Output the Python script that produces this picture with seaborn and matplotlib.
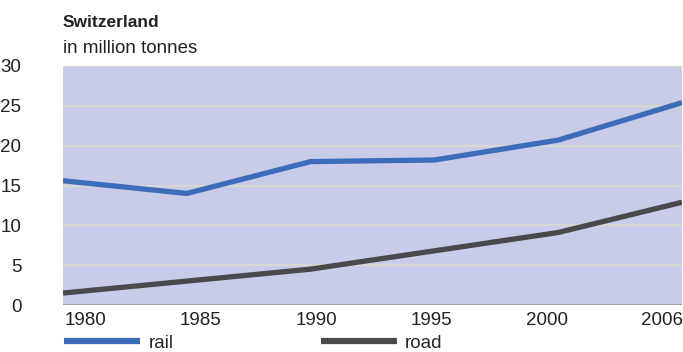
import matplotlib
matplotlib.use("Agg")
import matplotlib.pyplot as plt
import seaborn as sns
import pandas as pd
import numpy as np
from matplotlib.lines import Line2D

# Goods transport through Switzerland, million tonnes
years = ["1980", "1985", "1990", "1995", "2000", "2006"]
rail = [15.6, 14.0, 18.0, 18.2, 20.7, 25.4]
road = [1.5, 3.0, 4.5, 6.8, 9.1, 12.9]

df = pd.DataFrame({
    "year": years * 2,
    "pos": list(range(len(years))) * 2,
    "value": rail + road,
    "mode": ["rail"] * len(years) + ["road"] * len(years),
})

sns.set_theme(style="white")
plt.rcParams["font.family"] = ["Liberation Sans", "DejaVu Sans"]

W, H = 683, 352
fig = plt.figure(figsize=(W / 100, H / 100), dpi=100)
ax = fig.add_axes([63 / W, 1 - 305 / H, 619 / W, 239 / H])
ax.set_facecolor("#c8cce8")

palette = {"rail": "#3d6cb9", "road": "#4a4a4c"}
sns.lineplot(data=df, x="pos", y="value", hue="mode", palette=palette,
             linewidth=3.8, ax=ax, legend=False, solid_capstyle="butt")

ax.set_xlim(0, len(years) - 1)
ax.set_ylim(0, 30)
ax.set_yticks(range(0, 31, 5))
ax.set_yticklabels([str(v) for v in range(0, 31, 5)], fontsize=13.5, color="#222222")
for y in range(5, 31, 5):
    ax.axhline(y, color="#d8d8d2", linewidth=1.6, zorder=0.5)
ax.axhline(0, color="#9a9a9a", linewidth=2.0, zorder=0.6)

xt = np.linspace(0.18, 4.84, len(years))
ax.set_xticks(xt)
ax.set_xticklabels(years, fontsize=13.5, color="#222222")
ax.tick_params(axis="both", length=0)
ax.tick_params(axis="y", pad=30)
ax.tick_params(axis="x", pad=5)
for s in ax.spines.values():
    s.set_visible(False)
ax.set_xlabel("")
ax.set_ylabel("")

fig.text(63 / W, 1 - 27 / H, "Switzerland", fontsize=12.5, fontweight="bold",
         color="#222222", ha="left", va="baseline")
fig.text(63 / W, 1 - 53 / H, "in million tonnes", fontsize=13.5,
         color="#222222", ha="left", va="baseline")

handles = [Line2D([0], [0], color=palette["rail"], linewidth=4.5, solid_capstyle="butt"),
           Line2D([0], [0], color=palette["road"], linewidth=4.5, solid_capstyle="butt")]
fig.legend(handles, ["rail", "road"], loc="center left",
           bbox_to_anchor=(64 / W, 1 - 343 / H), ncol=2, frameon=False,
           fontsize=13.5, handlelength=4.05, handletextpad=0.45,
           columnspacing=7.85, borderpad=0, borderaxespad=0)

fig.savefig("out.png", dpi=100)
